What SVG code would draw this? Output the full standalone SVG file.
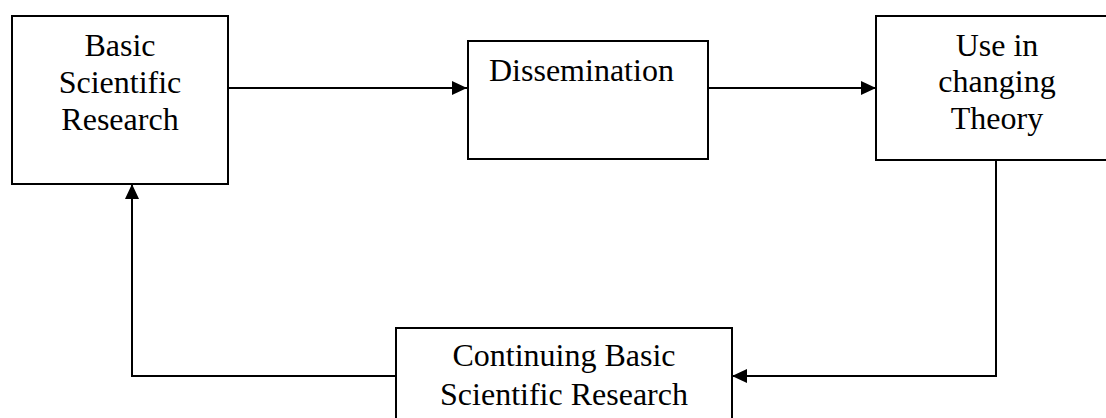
<svg xmlns="http://www.w3.org/2000/svg" width="1106" height="418" viewBox="0 0 1106 418">
  <style>
    .box { fill: #ffffff; stroke: #000000; stroke-width: 2; }
    .label { font-family: "Liberation Serif", "Times New Roman", serif; font-size: 32px; fill: #000000; }
    .mid { text-anchor: middle; }
    .link { fill: none; stroke: #000000; stroke-width: 2; }
  </style>
  <defs>
    <marker id="arrow" viewBox="0 0 15 14" refX="15" refY="7" markerWidth="15" markerHeight="14" markerUnits="userSpaceOnUse" orient="auto">
      <path d="M0,0 L15,7 L0,14 Z" fill="#000000"/>
    </marker>
  </defs>
  <rect width="1106" height="418" fill="#ffffff"/>

  <g id="connectors">
    <path class="link" d="M228,88 L467,88" marker-end="url(#arrow)"/>
    <path class="link" d="M708,88 L876,88" marker-end="url(#arrow)"/>
    <path class="link" d="M996,160 L996,376 L732,376" marker-end="url(#arrow)"/>
    <path class="link" d="M396,376 L132,376 L132,184" marker-end="url(#arrow)"/>
  </g>

  <g id="basic-research">
    <rect class="box" x="12" y="16" width="216" height="168"/>
    <text class="label mid" x="120" y="56">Basic</text>
    <text class="label mid" x="120" y="93">Scientific</text>
    <text class="label mid" x="120" y="130">Research</text>
  </g>

  <g id="dissemination">
    <rect class="box" x="468" y="41" width="240" height="118"/>
    <text class="label" x="489" y="81">Dissemination</text>
  </g>

  <g id="use-in-theory">
    <rect class="box" x="876" y="16" width="244" height="144"/>
    <text class="label mid" x="997" y="56">Use in</text>
    <text class="label mid" x="997" y="92">changing</text>
    <text class="label mid" x="997" y="129">Theory</text>
  </g>

  <g id="continuing-research">
    <rect class="box" x="396" y="328" width="336" height="100"/>
    <text class="label mid" x="564" y="366">Continuing Basic</text>
    <text class="label mid" x="564" y="405">Scientific Research</text>
  </g>
</svg>
